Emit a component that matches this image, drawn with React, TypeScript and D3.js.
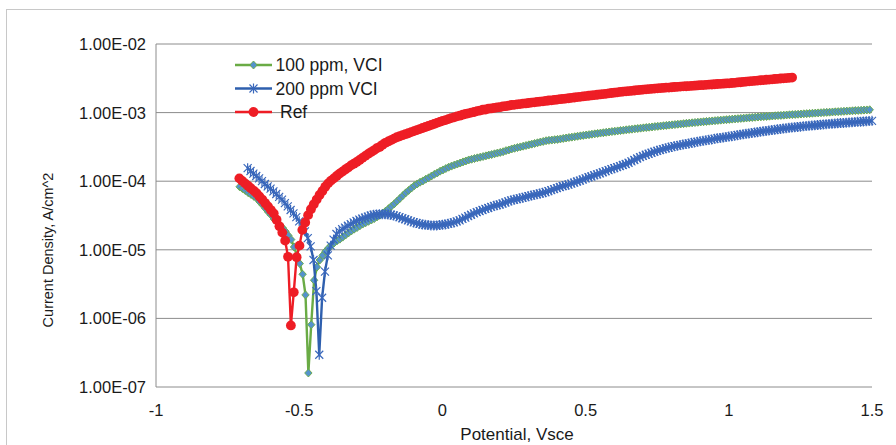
import * as d3 from "d3";
import React from "react";

// potentiodynamic scans: current density (A/cm^2) read every 10 mV of the sweep
const potentialTicks = [-1, -0.5, 0, 0.5, 1, 1.5];
const currentTicks = [1e-7, 1e-6, 1e-5, 1e-4, 1e-3, 1e-2];
const seriesNames = ["100 ppm, VCI", "200 ppm VCI", "Ref"];

const scanStep = 0.01; // V between readings
const ppm100Start = -0.708;
const ppm200Start = -0.68;
const refStart = -0.709;

const ppm100Current = [
  8.3e-5, 7.8e-5, 7.3e-5, 6.8e-5, 6.4e-5, 6.0e-5, 5.6e-5, 5.0e-5, 4.5e-5, 4.0e-5,
  3.55e-5, 3.2e-5, 2.8e-5, 2.6e-5, 2.3e-5, 2.1e-5, 1.86e-5, 1.62e-5, 1.41e-5, 1.1e-5,
  8.3e-6, 6.3e-6, 4.4e-6, 2.2e-6, 1.6e-7, 8.1e-7, 3.6e-6, 5.6e-6, 7.1e-6, 8.3e-6,
  9.5e-6, 1.06e-5, 1.16e-5, 1.26e-5, 1.35e-5, 1.43e-5, 1.53e-5, 1.64e-5, 1.76e-5, 1.88e-5,
  2.0e-5, 2.11e-5, 2.24e-5, 2.37e-5, 2.48e-5, 2.6e-5, 2.72e-5, 2.85e-5, 3.02e-5, 3.2e-5,
  3.43e-5, 3.67e-5, 3.98e-5, 4.32e-5, 4.68e-5, 5.13e-5, 5.62e-5, 6.17e-5, 6.76e-5, 7.33e-5,
  7.94e-5, 8.6e-5, 9.12e-5, 9.66e-5, 1.01e-4, 1.07e-4, 1.12e-4, 1.19e-4, 1.26e-4, 1.32e-4,
  1.4e-4, 1.46e-4, 1.53e-4, 1.6e-4, 1.66e-4, 1.72e-4, 1.78e-4, 1.84e-4, 1.91e-4, 1.97e-4,
  2.04e-4, 2.09e-4, 2.14e-4, 2.19e-4, 2.24e-4, 2.29e-4, 2.34e-4, 2.4e-4, 2.45e-4, 2.51e-4,
  2.57e-4, 2.63e-4, 2.69e-4, 2.79e-4, 2.85e-4, 2.95e-4, 3.02e-4, 3.09e-4, 3.16e-4, 3.24e-4,
  3.31e-4, 3.39e-4, 3.47e-4, 3.55e-4, 3.63e-4, 3.72e-4, 3.8e-4, 3.89e-4, 3.94e-4, 3.98e-4,
  4.03e-4, 4.07e-4, 4.13e-4, 4.2e-4, 4.26e-4, 4.33e-4, 4.39e-4, 4.45e-4, 4.52e-4, 4.58e-4,
  4.65e-4, 4.71e-4, 4.77e-4, 4.84e-4, 4.9e-4, 4.97e-4, 5.03e-4, 5.09e-4, 5.16e-4, 5.22e-4,
  5.29e-4, 5.35e-4, 5.41e-4, 5.48e-4, 5.54e-4, 5.61e-4, 5.67e-4, 5.73e-4, 5.8e-4, 5.86e-4,
  5.93e-4, 5.99e-4, 6.05e-4, 6.12e-4, 6.18e-4, 6.25e-4, 6.31e-4, 6.37e-4, 6.44e-4, 6.5e-4,
  6.57e-4, 6.63e-4, 6.7e-4, 6.77e-4, 6.83e-4, 6.9e-4, 6.97e-4, 7.03e-4, 7.1e-4, 7.17e-4,
  7.23e-4, 7.3e-4, 7.36e-4, 7.43e-4, 7.5e-4, 7.56e-4, 7.63e-4, 7.7e-4, 7.76e-4, 7.83e-4,
  7.89e-4, 7.96e-4, 8.03e-4, 8.09e-4, 8.16e-4, 8.23e-4, 8.29e-4, 8.36e-4, 8.42e-4, 8.49e-4,
  8.56e-4, 8.62e-4, 8.68e-4, 8.74e-4, 8.8e-4, 8.87e-4, 8.93e-4, 8.99e-4, 9.05e-4, 9.11e-4,
  9.17e-4, 9.23e-4, 9.29e-4, 9.35e-4, 9.41e-4, 9.47e-4, 9.53e-4, 9.6e-4, 9.66e-4, 9.72e-4,
  9.78e-4, 9.84e-4, 9.9e-4, 9.96e-4, 1.002e-3, 1.008e-3, 1.014e-3, 1.021e-3, 1.027e-3, 1.033e-3,
  1.039e-3, 1.045e-3, 1.051e-3, 1.057e-3, 1.063e-3, 1.069e-3, 1.075e-3, 1.081e-3, 1.088e-3, 1.094e-3,
  1.1e-3,
];

const ppm200Current = [
  1.55e-4, 1.41e-4, 1.29e-4, 1.19e-4, 1.1e-4, 1.0e-4, 9.1e-5, 8.4e-5, 7.8e-5, 7.1e-5,
  6.5e-5, 5.9e-5, 5.4e-5, 4.8e-5, 4.3e-5, 3.8e-5, 3.4e-5, 3.0e-5, 2.6e-5, 2.24e-5,
  1.86e-5, 1.48e-5, 1.12e-5, 7.1e-6, 2.5e-6, 2.95e-7, 2.0e-6, 4.8e-6, 8.3e-6, 1.15e-5,
  1.41e-5, 1.7e-5, 1.86e-5, 2.0e-5, 2.11e-5, 2.24e-5, 2.37e-5, 2.51e-5, 2.63e-5, 2.75e-5,
  2.85e-5, 2.95e-5, 3.05e-5, 3.16e-5, 3.24e-5, 3.27e-5, 3.31e-5, 3.31e-5, 3.31e-5, 3.27e-5,
  3.24e-5, 3.16e-5, 3.09e-5, 2.99e-5, 2.88e-5, 2.79e-5, 2.69e-5, 2.6e-5, 2.51e-5, 2.45e-5,
  2.4e-5, 2.34e-5, 2.32e-5, 2.29e-5, 2.26e-5, 2.26e-5, 2.26e-5, 2.29e-5, 2.32e-5, 2.34e-5,
  2.4e-5, 2.45e-5, 2.51e-5, 2.6e-5, 2.69e-5, 2.82e-5, 2.95e-5, 3.09e-5, 3.24e-5, 3.39e-5,
  3.55e-5, 3.67e-5, 3.8e-5, 3.94e-5, 4.07e-5, 4.22e-5, 4.37e-5, 4.47e-5, 4.57e-5, 4.73e-5,
  4.9e-5, 5.07e-5, 5.25e-5, 5.37e-5, 5.5e-5, 5.62e-5, 5.75e-5, 5.89e-5, 6.03e-5, 6.17e-5,
  6.31e-5, 6.46e-5, 6.61e-5, 6.76e-5, 6.92e-5, 7.16e-5, 7.41e-5, 7.67e-5, 7.94e-5, 8.22e-5,
  8.51e-5, 8.71e-5, 8.91e-5, 9.23e-5, 9.55e-5, 9.89e-5, 1.02e-4, 1.06e-4, 1.1e-4, 1.14e-4,
  1.17e-4, 1.22e-4, 1.26e-4, 1.3e-4, 1.35e-4, 1.4e-4, 1.45e-4, 1.5e-4, 1.55e-4, 1.6e-4,
  1.66e-4, 1.72e-4, 1.78e-4, 1.86e-4, 1.95e-4, 2.04e-4, 2.14e-4, 2.24e-4, 2.34e-4, 2.43e-4,
  2.51e-4, 2.6e-4, 2.69e-4, 2.77e-4, 2.85e-4, 2.94e-4, 3.02e-4, 3.09e-4, 3.16e-4, 3.23e-4,
  3.29e-4, 3.36e-4, 3.42e-4, 3.49e-4, 3.55e-4, 3.62e-4, 3.68e-4, 3.75e-4, 3.81e-4, 3.88e-4,
  3.94e-4, 4.01e-4, 4.07e-4, 4.14e-4, 4.21e-4, 4.27e-4, 4.34e-4, 4.4e-4, 4.47e-4, 4.54e-4,
  4.61e-4, 4.69e-4, 4.76e-4, 4.83e-4, 4.9e-4, 4.97e-4, 5.05e-4, 5.12e-4, 5.19e-4, 5.26e-4,
  5.34e-4, 5.41e-4, 5.48e-4, 5.56e-4, 5.63e-4, 5.7e-4, 5.77e-4, 5.85e-4, 5.92e-4, 5.99e-4,
  6.06e-4, 6.12e-4, 6.18e-4, 6.24e-4, 6.3e-4, 6.36e-4, 6.42e-4, 6.48e-4, 6.54e-4, 6.6e-4,
  6.66e-4, 6.72e-4, 6.78e-4, 6.83e-4, 6.88e-4, 6.93e-4, 6.98e-4, 7.03e-4, 7.08e-4, 7.13e-4,
  7.18e-4, 7.23e-4, 7.28e-4, 7.33e-4, 7.38e-4, 7.43e-4, 7.48e-4, 7.53e-4, 7.58e-4,
];

const refCurrent = [
  1.1e-4, 1.01e-4, 9.3e-5, 8.6e-5, 7.9e-5, 7.3e-5, 6.7e-5, 6.0e-5, 5.4e-5, 4.8e-5,
  4.3e-5, 3.8e-5, 3.4e-5, 2.75e-5, 2.2e-5, 1.78e-5, 1.36e-5, 7.9e-6, 7.9e-7, 2.4e-6,
  7.8e-6, 1.15e-5, 1.95e-5, 2.5e-5, 3.2e-5, 3.9e-5, 4.6e-5, 5.4e-5, 6.3e-5, 7.2e-5,
  8.3e-5, 9.3e-5, 1.02e-4, 1.1e-4, 1.19e-4, 1.29e-4, 1.38e-4, 1.48e-4, 1.58e-4, 1.7e-4,
  1.8e-4, 1.91e-4, 2.04e-4, 2.19e-4, 2.34e-4, 2.5e-4, 2.66e-4, 2.82e-4, 3.02e-4, 3.16e-4,
  3.39e-4, 3.63e-4, 3.8e-4, 3.98e-4, 4.17e-4, 4.37e-4, 4.52e-4, 4.68e-4, 4.84e-4, 5.0e-4,
  5.19e-4, 5.37e-4, 5.56e-4, 5.75e-4, 5.96e-4, 6.17e-4, 6.38e-4, 6.61e-4, 6.84e-4, 7.08e-4,
  7.33e-4, 7.59e-4, 7.76e-4, 8.04e-4, 8.32e-4, 8.51e-4, 8.81e-4, 9.02e-4, 9.33e-4, 9.55e-4,
  9.77e-4, 1.0e-3, 1.02e-3, 1.05e-3, 1.07e-3, 1.1e-3, 1.11e-3, 1.14e-3, 1.15e-3, 1.17e-3,
  1.19e-3, 1.2e-3, 1.23e-3, 1.24e-3, 1.26e-3, 1.29e-3, 1.3e-3, 1.32e-3, 1.33e-3, 1.35e-3,
  1.36e-3, 1.38e-3, 1.4e-3, 1.41e-3, 1.43e-3, 1.45e-3, 1.46e-3, 1.48e-3, 1.5e-3, 1.51e-3,
  1.53e-3, 1.55e-3, 1.57e-3, 1.58e-3, 1.6e-3, 1.62e-3, 1.64e-3, 1.66e-3, 1.68e-3, 1.7e-3,
  1.72e-3, 1.74e-3, 1.76e-3, 1.78e-3, 1.8e-3, 1.82e-3, 1.84e-3, 1.86e-3, 1.88e-3, 1.91e-3,
  1.93e-3, 1.95e-3, 1.97e-3, 2.0e-3, 2.02e-3, 2.04e-3, 2.06e-3, 2.08e-3, 2.1e-3, 2.12e-3,
  2.14e-3, 2.16e-3, 2.18e-3, 2.2e-3, 2.22e-3, 2.24e-3, 2.26e-3, 2.28e-3, 2.29e-3, 2.31e-3,
  2.32e-3, 2.34e-3, 2.36e-3, 2.37e-3, 2.39e-3, 2.41e-3, 2.42e-3, 2.44e-3, 2.46e-3, 2.47e-3,
  2.49e-3, 2.51e-3, 2.52e-3, 2.54e-3, 2.56e-3, 2.57e-3, 2.59e-3, 2.61e-3, 2.62e-3, 2.64e-3,
  2.66e-3, 2.67e-3, 2.7e-3, 2.72e-3, 2.75e-3, 2.77e-3, 2.8e-3, 2.83e-3, 2.85e-3, 2.88e-3,
  2.9e-3, 2.93e-3, 2.96e-3, 2.98e-3, 3.01e-3, 3.03e-3, 3.06e-3, 3.09e-3, 3.11e-3, 3.14e-3,
  3.16e-3, 3.19e-3, 3.21e-3, 3.24e-3,
];

const FONT = "'Liberation Sans', Arial, sans-serif";

const diamond = "M0,-4L3.7,0L0,4L-3.7,0Z";
const star = "M-4,-4L4,4M-4,4L4,-4M0,-5L0,5";

const sci = (v: number) => {
  const e = Math.round(Math.log10(v));
  return `1.00E${e < 0 ? "-" : "+"}${String(Math.abs(e)).padStart(2, "0")}`;
};

const toPoints = (start: number, values: number[]): [number, number][] =>
  values.map((c, i) => [start + i * scanStep, c]);

const Marker = ({ kind, x, y }: { kind: string; x: number; y: number }) => {
  if (kind === "diamond")
    return <path d={diamond} transform={`translate(${x},${y})`} fill="#5592cc" stroke="#6aab45" strokeWidth={0.9} />;
  if (kind === "star")
    return <path d={star} transform={`translate(${x},${y})`} fill="none" stroke="#3a68bc" strokeWidth={1.2} />;
  return <circle cx={x} cy={y} r={4.9} fill="#ee1d25" />;
};

const App = () => {
  const width = 896;
  const height = 445;
  const left = 156, right = 872, top = 44, bottom = 387;

  const x = d3.scaleLinear().domain([-1, 1.5]).range([left, right]);
  const y = d3.scaleLog().domain([1e-7, 1e-2]).range([bottom, top]);

  const line = d3
    .line<[number, number]>()
    .x((d) => x(d[0]))
    .y((d) => y(d[1]));

  // Excel draws green first, red ends up on top
  const series = [
    { name: seriesNames[0], data: toPoints(ppm100Start, ppm100Current), color: "#6aab45", marker: "diamond" },
    { name: seriesNames[1], data: toPoints(ppm200Start, ppm200Current), color: "#2e5fae", marker: "star" },
    { name: seriesNames[2], data: toPoints(refStart, refCurrent), color: "#ee1d25", marker: "circle" },
  ];

  return (
    <svg width={width} height={height} style={{ position: "absolute", left: 0, top: 0, background: "#fff" }} fontFamily={FONT}>
      <rect x={6.5} y={9.5} width={width} height={height} fill="#fff" stroke="#c8c8c8" />

      {currentTicks.map((t) => (
        <g key={t}>
          <line x1={left} x2={right} y1={y(t)} y2={y(t)} stroke="#8c8c8c" strokeWidth={1} />
          <text x={146} y={y(t)} dy="0.36em" textAnchor="end" fontSize={16.5} fill="#1a1a1a">
            {sci(t)}
          </text>
        </g>
      ))}
      <line x1={left} x2={left} y1={top} y2={bottom} stroke="#8c8c8c" />

      {potentialTicks.map((t) => (
        <text key={t} x={x(t)} y={410} dy="0.36em" textAnchor="middle" fontSize={16.5} fill="#1a1a1a">
          {String(t)}
        </text>
      ))}

      <text x={517} y={434} dy="0.36em" textAnchor="middle" fontSize={17} fill="#1a1a1a">
        Potential, Vsce
      </text>
      <text transform="translate(47.5,250) rotate(-90)" dy="0.36em" textAnchor="middle" fontSize={14.5} fill="#1a1a1a">
        Current Density, A/cm^2
      </text>

      {series.map((s) => (
        <g key={s.name}>
          <path d={line(s.data) || ""} fill="none" stroke={s.color} strokeWidth={2.4} strokeLinejoin="round" />
          {s.data.map((d, i) => (
            <Marker key={i} kind={s.marker} x={x(d[0])} y={y(d[1])} />
          ))}
        </g>
      ))}

      {series.map((s, i) => {
        const ly = 65 + i * 23.5;
        return (
          <g key={s.name}>
            <line x1={235} x2={272} y1={ly} y2={ly} stroke={s.color} strokeWidth={2.4} />
            <Marker kind={s.marker} x={253.5} y={ly} />
            <text x={i === 2 ? 280 : 275.5} y={ly} dy="0.36em" fontSize={17.5} fill="#1a1a1a">
              {s.name}
            </text>
          </g>
        );
      })}
    </svg>
  );
};

export default App;
